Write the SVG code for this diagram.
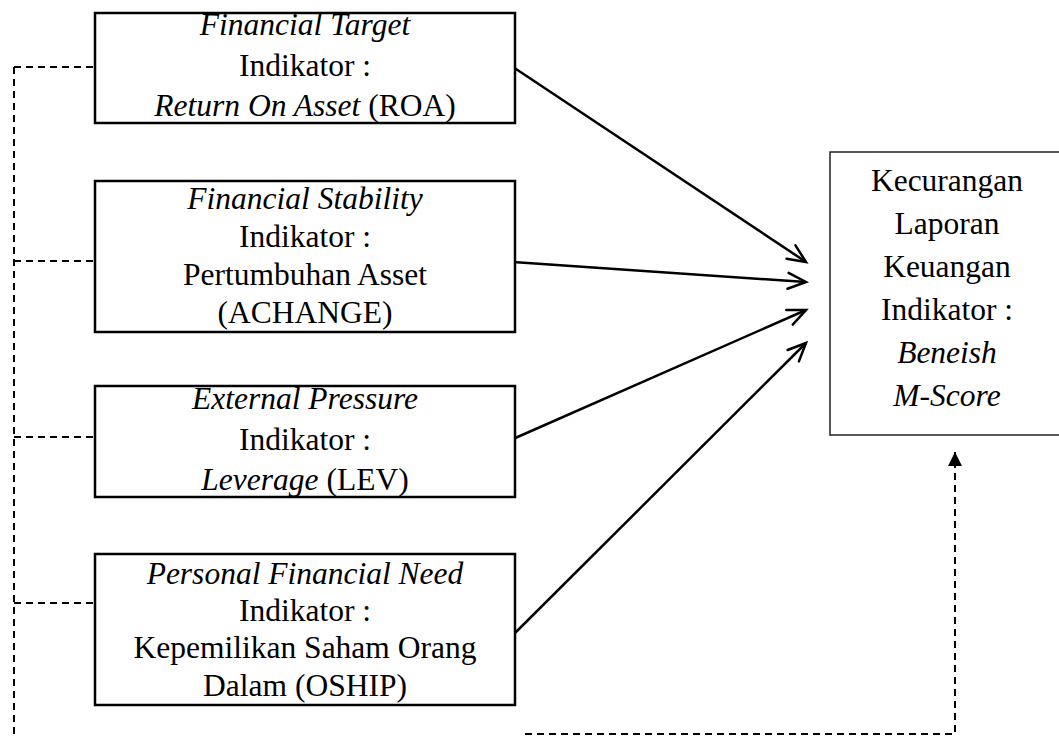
<svg xmlns="http://www.w3.org/2000/svg" width="1059" height="737" viewBox="0 0 1059 737">
<style>
.box{fill:#fff;stroke:#000;stroke-width:2.5}
.tbox{fill:#fff;stroke:#222;stroke-width:1.5}
text{font-family:"Liberation Serif","Times New Roman",serif;font-size:31.5px;fill:#000;text-anchor:middle}
.i{font-style:italic}
.solid{fill:none;stroke:#000;stroke-width:2.5}
.dash{fill:none;stroke:#000;stroke-width:2;stroke-dasharray:7 5}
</style>
<defs>
<marker id="open" markerUnits="userSpaceOnUse" markerWidth="26" markerHeight="26" refX="21" refY="11" orient="auto">
<path d="M3,3 L21,11 L3,19" fill="none" stroke="#000" stroke-width="2.5" stroke-linecap="round" stroke-linejoin="miter"/>
</marker>
<marker id="tri" markerUnits="userSpaceOnUse" markerWidth="16" markerHeight="16" refX="14" refY="7" orient="auto">
<path d="M0,0 L14,7 L0,14 z" fill="#000"/>
</marker>
</defs>
<g id="connectors">
<path class="dash" d="M14,67 V737"/>
<path class="dash" d="M14,67 H95"/>
<path class="dash" d="M14,261 H95"/>
<path class="dash" d="M14,437 H95"/>
<path class="dash" d="M14,603 H95"/>
<path class="dash" d="M525,734 H955 V452" marker-end="url(#tri)"/>
<line class="solid" x1="513" y1="67" x2="806" y2="262" marker-end="url(#open)"/>
<line class="solid" x1="513" y1="262" x2="806" y2="282" marker-end="url(#open)"/>
<line class="solid" x1="513" y1="439" x2="806" y2="310" marker-end="url(#open)"/>
<line class="solid" x1="513" y1="635" x2="806" y2="343" marker-end="url(#open)"/>
</g>
<g id="node-financial-target">
<rect class="box" x="95" y="13" width="420" height="110"/>
<text x="305" y="35"><tspan class="i">Financial Target</tspan></text>
<text x="305" y="76">Indikator :</text>
<text x="305" y="116"><tspan class="i">Return On Asset</tspan> (ROA)</text>
</g>
<g id="node-financial-stability">
<rect class="box" x="95" y="181" width="420" height="151"/>
<text x="305" y="209"><tspan class="i">Financial Stability</tspan></text>
<text x="305" y="247">Indikator :</text>
<text x="305" y="285">Pertumbuhan Asset</text>
<text x="305" y="323">(ACHANGE)</text>
</g>
<g id="node-external-pressure">
<rect class="box" x="95" y="386" width="420" height="111"/>
<text x="305" y="409"><tspan class="i">External Pressure</tspan></text>
<text x="305" y="450">Indikator :</text>
<text x="305" y="490"><tspan class="i">Leverage</tspan> (LEV)</text>
</g>
<g id="node-personal-financial-need">
<rect class="box" x="95" y="554" width="420" height="151"/>
<text x="305" y="584"><tspan class="i">Personal Financial Need</tspan></text>
<text x="305" y="621">Indikator :</text>
<text x="305" y="658">Kepemilikan Saham Orang</text>
<text x="305" y="696">Dalam (OSHIP)</text>
</g>
<g id="node-kecurangan">
<rect class="tbox" x="830" y="152" width="236" height="283"/>
<text x="947" y="191">Kecurangan</text>
<text x="947" y="234">Laporan</text>
<text x="947" y="277">Keuangan</text>
<text x="947" y="320">Indikator :</text>
<text x="947" y="363" class="i">Beneish</text>
<text x="947" y="406" class="i">M-Score</text>
</g>
</svg>
